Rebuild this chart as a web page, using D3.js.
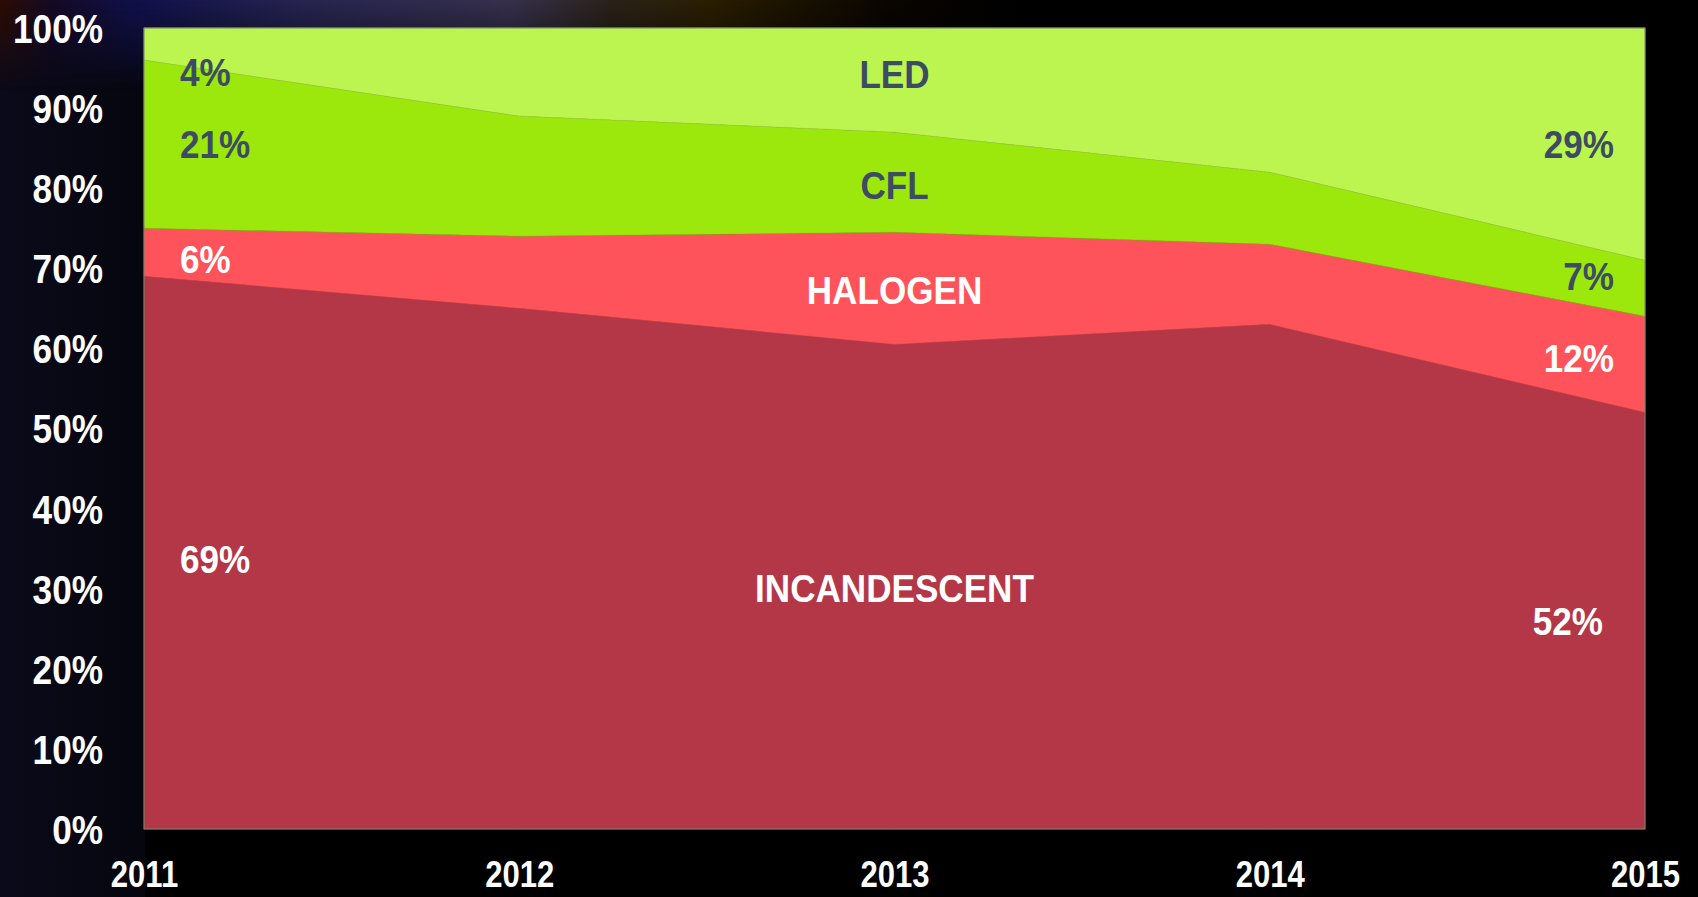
<!DOCTYPE html>
<html>
<head>
<meta charset="utf-8">
<script src="https://cdn.jsdelivr.net/npm/d3@7"></script>
<style>
  html, body { margin: 0; padding: 0; background: #000; overflow: hidden; }
  svg { display: block; }
  text { font-family: "Liberation Sans", Arial, sans-serif; font-weight: bold; }
</style>
</head>
<body>
<div id="chart"></div>
<script>
var years = [2011, 2012, 2013, 2014, 2015];
var seriesNames = ["INCANDESCENT", "HALOGEN", "CFL", "LED"];
var incandescent = [69, 65, 60.5, 63, 52];
var halogen = [6, 9, 14, 10, 12];
var cfl = [21, 15, 12.5, 9, 7];
var led = [4, 11, 13, 18, 29];
var yTicks = [0, 10, 20, 30, 40, 50, 60, 70, 80, 90, 100];

// value labels: series, year, text
var valueLabels = [
  ["LED", 2011, "4%"], ["CFL", 2011, "21%"], ["HALOGEN", 2011, "6%"], ["INCANDESCENT", 2011, "69%"],
  ["LED", 2015, "29%"], ["CFL", 2015, "7%"], ["HALOGEN", 2015, "12%"], ["INCANDESCENT", 2015, "52%"]
];

var width = 1698, height = 897;
var margin = {top: 28, right: 53, bottom: 68, left: 144};

var colours = {
  "INCANDESCENT": "#b33747",
  "HALOGEN": "#fe535a",
  "CFL": "#9de80c",
  "LED": "#bdf550"
};
var darkText = "#3b4c63";
var labelColour = {"INCANDESCENT": "#fff", "HALOGEN": "#fff", "CFL": darkText, "LED": darkText};

var table = years.map(function(yr, i) {
  return {year: yr, "INCANDESCENT": incandescent[i], "HALOGEN": halogen[i], "CFL": cfl[i], "LED": led[i]};
});

var svg = d3.select("#chart").append("svg")
  .attr("width", width)
  .attr("height", height);

// Background glow
var defs = svg.append("defs");
var topGrad = defs.append("linearGradient").attr("id", "topGrad");
[[0, "#2c0c02"], [0.03, "#140a24"], [0.08, "#10104a"], [0.18, "#262450"], [0.3, "#36304c"], [0.36, "#2a2218"], [0.42, "#2a1e00"], [0.52, "#0a0500"], [0.6, "#000"], [1, "#000"]]
  .forEach(function(s) { topGrad.append("stop").attr("offset", s[0]).attr("stop-color", s[1]); });
var fade = defs.append("linearGradient").attr("id", "fade").attr("x1", 0).attr("y1", 0).attr("x2", 0).attr("y2", 1);
fade.append("stop").attr("offset", 0).attr("stop-color", "#fff");
fade.append("stop").attr("offset", 0.3).attr("stop-color", "#fff").attr("stop-opacity", 0.75);
fade.append("stop").attr("offset", 1).attr("stop-color", "#fff").attr("stop-opacity", 0);
defs.append("mask").attr("id", "fadeMask").append("rect")
  .attr("width", width).attr("height", 90).attr("fill", "url(#fade)");
var sideGrad = defs.append("linearGradient").attr("id", "sideGrad");
sideGrad.append("stop").attr("offset", 0).attr("stop-color", "#0b0a1a");
sideGrad.append("stop").attr("offset", 1).attr("stop-color", "#06060f");

svg.append("rect").attr("width", width).attr("height", height).attr("fill", "#000");
svg.append("rect").attr("width", 145).attr("height", height).attr("fill", "url(#sideGrad)");
svg.append("rect").attr("width", width).attr("height", 90).attr("fill", "url(#topGrad)").attr("mask", "url(#fadeMask)");

var x = d3.scaleLinear()
  .domain(d3.extent(years))
  .range([margin.left, width - margin.right]);
var y = d3.scaleLinear()
  .domain([0, 100])
  .range([height - margin.bottom, margin.top]);

var stacked = d3.stack().keys(seriesNames)(table);

var area = d3.area()
  .x(function(d) { return x(d.data.year); })
  .y0(function(d) { return y(d[0]); })
  .y1(function(d) { return y(d[1]); });

svg.append("g").selectAll("path")
  .data(stacked)
  .join("path")
  .attr("d", area)
  .attr("fill", function(d) { return colours[d.key]; })
  .attr("stroke", function(d) { return d3.color(colours[d.key]).darker(0.4); })
  .attr("stroke-width", 0.6);

svg.append("rect")
  .attr("x", x(2011)).attr("y", y(100))
  .attr("width", x(2015) - x(2011)).attr("height", y(0) - y(100))
  .attr("fill", "none").attr("stroke", "#7d8a70").attr("stroke-width", 1);

// Axes
var yAxis = svg.append("g").attr("transform", "translate(103,0)")
  .call(d3.axisLeft(y).tickValues(yTicks).tickSize(0).tickPadding(0).tickFormat(function(d) { return d + "%"; }));
yAxis.select(".domain").remove();
yAxis.selectAll("text")
  .attr("fill", "#fff")
  .attr("font-size", "40px")
  .attr("font-family", null)
  .attr("x", 0)
  .attr("dy", "0.36em")
  .attr("transform", "scale(0.88,1)");

var xAxis = svg.append("g").attr("transform", "translate(0,887)")
  .call(d3.axisBottom(x).tickValues(years).tickSize(0).tickPadding(0).tickFormat(d3.format("d")));
xAxis.select(".domain").remove();
xAxis.selectAll("text")
  .attr("fill", "#fff")
  .attr("font-size", "37px")
  .attr("font-family", null)
  .attr("y", 0)
  .attr("dy", 0)
  .attr("text-anchor", "middle")
  .attr("transform", "scale(0.84,1)");

// Labels
function bandMid(key, yr) {
  var s = stacked.find(function(l) { return l.key == key; });
  var p = s[years.indexOf(yr)];
  return (p[0] + p[1]) / 2;
}

// nudges (in % units) where the text sits off the middle of its band
var nudge = {"LED2011": -3.5, "CFL2015": 1.5, "HALOGEN2011": -0.8, "INCANDESCENT2011": -0.8, "HALOGEN2015": 0.8};

var lbl = svg.append("g");
valueLabels.forEach(function(l) {
  var left = l[1] == 2011;
  var xx = left ? x(l[1]) + 36 : x(l[1]) - 31;
  if (l[2] == "52%") xx -= 11;
  var v = bandMid(l[0], l[1]) + (nudge[l[0] + l[1]] || 0);
  lbl.append("text")
    .attr("transform", "translate(" + xx + "," + y(v) + ") scale(0.9,1)")
    .attr("dy", "0.36em")
    .attr("text-anchor", left ? "start" : "end")
    .attr("font-size", "39px")
    .attr("fill", labelColour[l[0]])
    .text(l[2]);
});

// series names in the middle of 2013
var nameNudge = {"LED": 0.8, "CFL": -0.4, "HALOGEN": -0.2, "INCANDESCENT": 0};
seriesNames.forEach(function(k) {
  var v = k == "INCANDESCENT" ? 30.1 : bandMid(k, 2013) + nameNudge[k];
  lbl.append("text")
    .attr("transform", "translate(" + x(2013) + "," + y(v) + ") scale(0.9,1)")
    .attr("dy", "0.36em")
    .attr("text-anchor", "middle")
    .attr("font-size", "39px")
    .attr("fill", labelColour[k])
    .text(k);
});
</script>
</body>
</html>
